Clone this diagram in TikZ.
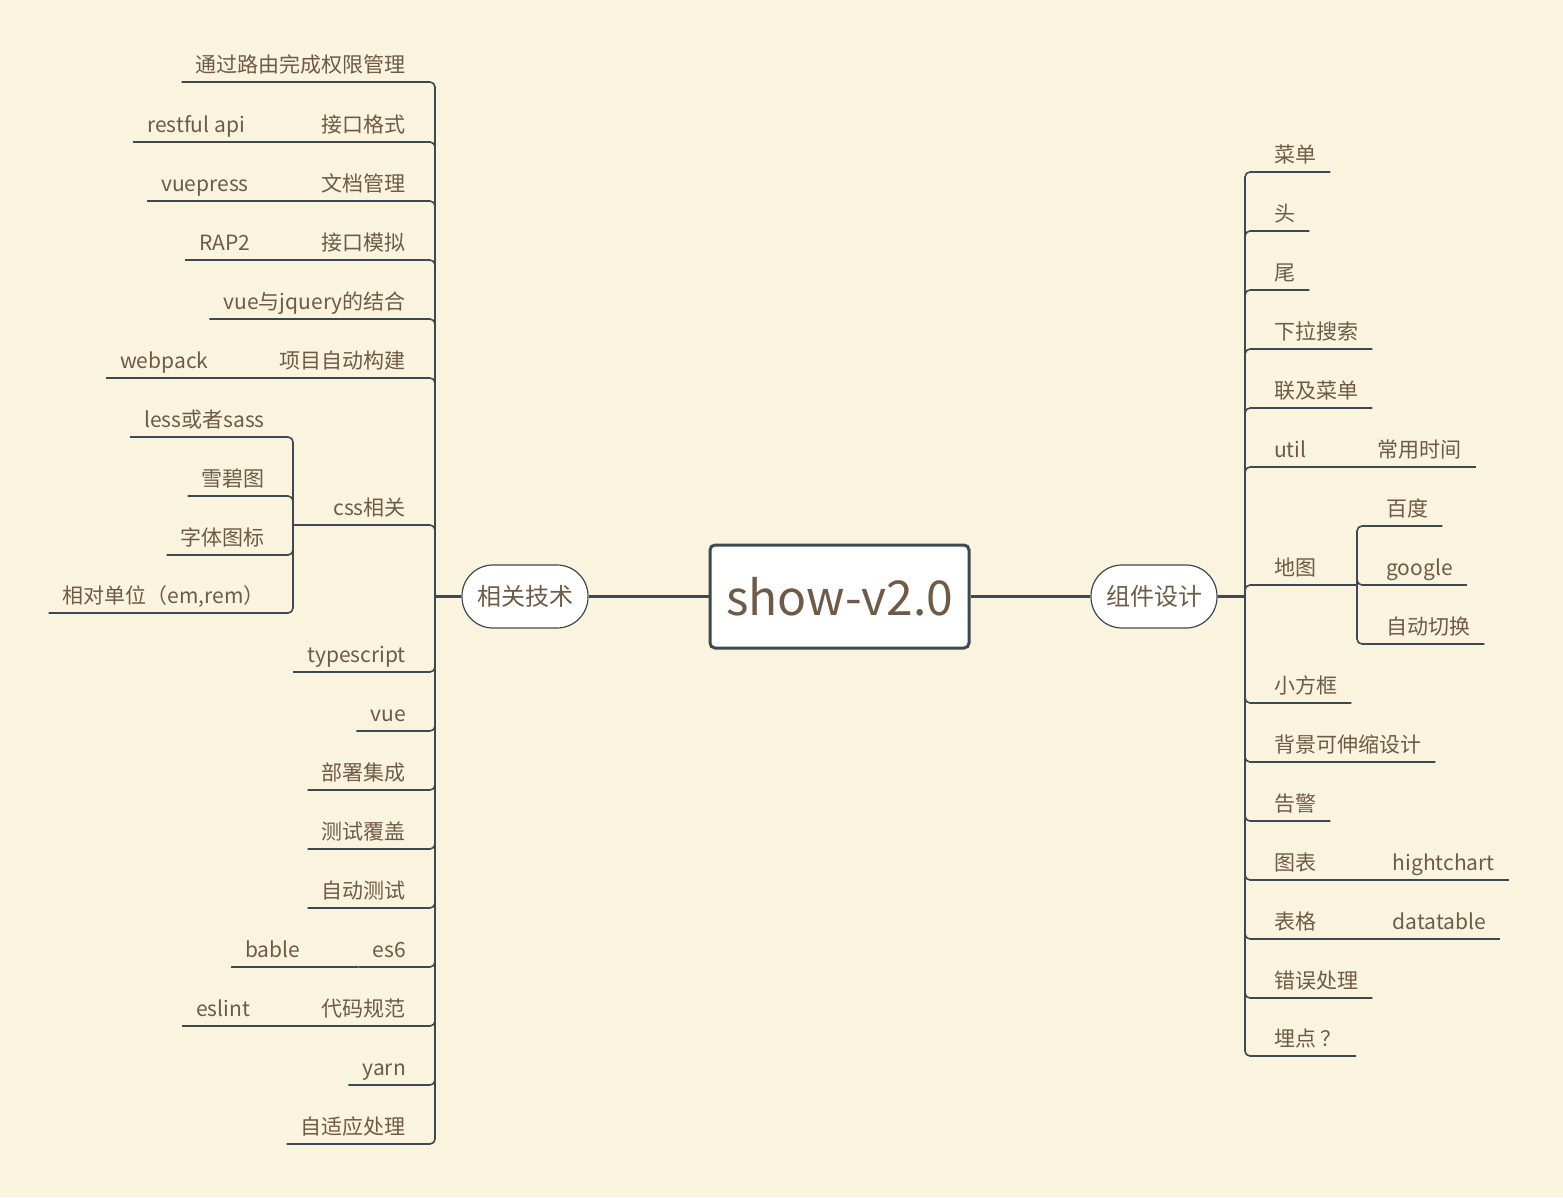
\documentclass[tikz,border=0pt]{standalone}
\usepackage{fontspec}
\setmainfont{Noto Sans CJK SC}
\usetikzlibrary{calc}
\definecolor{paper}{RGB}{250,244,222}
\definecolor{ink}{RGB}{110,90,70}
\definecolor{wire}{RGB}{62,72,82}

\begin{document}
\begin{tikzpicture}[x=1pt,y=-1pt,
	leaf/.style={inner xsep=14pt,inner ysep=1pt,text height=15pt,text depth=8pt,text=ink,font=\fontsize{21}{25}\selectfont},
	topic/.style={draw=wire,line width=1.2pt,fill=white,rounded corners=31pt,minimum width=126pt,minimum height=63pt,text=ink,font=\fontsize{24}{28}\selectfont},
	hub/.style={draw=wire,line width=3pt,fill=white,rounded corners=5pt,minimum width=259pt,minimum height=103pt,text=ink,font=\fontsize{48}{56}\selectfont},
	branch/.style={draw=wire,line width=1.6pt,rounded corners=5pt},
	stem/.style={draw=wire,line width=3pt},
	knee/.style={draw=wire,line width=2.4pt}]
	\fill[paper] (0,0) rectangle (1563,1197);

	\draw (839.5,596.5) node (show) [hub] {show-v2.0};
	\draw (525,596.5) node (tech) [topic] {相关技术};
	\draw (1154,596.5) node (comp) [topic] {组件设计};
	\coordinate (jL) at (435,596.5);
	\coordinate (jR) at (1245,596.5);

	\draw (420,82) node (t1) [leaf,anchor=south east] {通过路由完成权限管理};
	\draw (420,142) node (t2) [leaf,anchor=south east] {接口格式};
	\draw (133,142) node (t2a) [leaf,anchor=south west] {restful api};
	\draw (420,201) node (t3) [leaf,anchor=south east] {文档管理};
	\draw (147,201) node (t3a) [leaf,anchor=south west] {vuepress};
	\draw (420,260) node (t4) [leaf,anchor=south east] {接口模拟};
	\draw (185,260) node (t4a) [leaf,anchor=south west] {RAP2};
	\draw (420,319) node (t5) [leaf,anchor=south east] {vue与jquery的结合};
	\draw (420,378) node (t6) [leaf,anchor=south east] {项目自动构建};
	\draw (106,378) node (t6a) [leaf,anchor=south west] {webpack};
	\draw (420,525) node (css) [leaf,anchor=south east] {css相关};
	\coordinate (jCss) at (293,525);
	\draw (279,437) node (c1) [leaf,anchor=south east] {less或者sass};
	\draw (279,496) node (c2) [leaf,anchor=south east] {雪碧图};
	\draw (279,555) node (c3) [leaf,anchor=south east] {字体图标};
	\draw (279,613) node (c4) [leaf,anchor=south east] {相对单位（em,rem）};
	\draw (420,672) node (t8) [leaf,anchor=south east] {typescript};
	\draw (420,731) node (t9) [leaf,anchor=south east] {vue};
	\draw (420,790) node (t10) [leaf,anchor=south east] {部署集成};
	\draw (420,849) node (t11) [leaf,anchor=south east] {测试覆盖};
	\draw (420,908) node (t12) [leaf,anchor=south east] {自动测试};
	\draw (420,967) node (t13) [leaf,anchor=south east] {es6};
	\draw (231,967) node (t13a) [leaf,anchor=south west] {bable};
	\draw (420,1026) node (t14) [leaf,anchor=south east] {代码规范};
	\draw (182,1026) node (t14a) [leaf,anchor=south west] {eslint};
	\draw (420,1085) node (t15) [leaf,anchor=south east] {yarn};
	\draw (420,1144) node (t16) [leaf,anchor=south east] {自适应处理};

	\draw (1260,172) node (d1) [leaf,anchor=south west] {菜单};
	\draw (1260,231) node (d2) [leaf,anchor=south west] {头};
	\draw (1260,290) node (d3) [leaf,anchor=south west] {尾};
	\draw (1260,349) node (d4) [leaf,anchor=south west] {下拉搜索};
	\draw (1260,408) node (d5) [leaf,anchor=south west] {联及菜单};
	\draw (1260,467) node (d6) [leaf,anchor=south west] {util};
	\draw (1476,467) node (d6a) [leaf,anchor=south east] {常用时间};
	\draw (1260,585) node (map) [leaf,anchor=south west] {地图};
	\coordinate (jMap) at (1357,585);
	\draw (1372,526) node (m1) [leaf,anchor=south west] {百度};
	\draw (1372,585) node (m2) [leaf,anchor=south west] {google};
	\draw (1372,644) node (m3) [leaf,anchor=south west] {自动切换};
	\draw (1260,703) node (d8) [leaf,anchor=south west] {小方框};
	\draw (1260,762) node (d9) [leaf,anchor=south west] {背景可伸缩设计};
	\draw (1260,821) node (d10) [leaf,anchor=south west] {告警};
	\draw (1260,880) node (d11) [leaf,anchor=south west] {图表};
	\draw (1509,880) node (d11a) [leaf,anchor=south east] {hightchart};
	\draw (1260,939) node (d12) [leaf,anchor=south west] {表格};
	\draw (1500,939) node (d12a) [leaf,anchor=south east] {datatable};
	\draw (1260,998) node (d13) [leaf,anchor=south west] {错误处理};
	\draw (1260,1056) node (d14) [leaf,anchor=south west] {埋点 ？};

	\draw[stem] (show.west) -- (tech.east);
	\draw[stem] (show.east) -- (comp.west);
	\draw[stem] (tech.west) -- (jL);
	\draw[stem] (comp.east) -- (jR);

	\draw[branch] (jL) |- (t1.south west);
	\draw[branch] (jL) |- (t2.south west);
	\draw[branch] (jL) |- (t3.south west);
	\draw[branch] (jL) |- (t4.south west);
	\draw[branch] (jL) |- (t5.south west);
	\draw[branch] (jL) |- (t6.south west);
	\draw[branch] (jL) |- (css.south west);
	\draw[branch] (jL) |- (t8.south west);
	\draw[branch] (jL) |- (t9.south west);
	\draw[branch] (jL) |- (t10.south west);
	\draw[branch] (jL) |- (t11.south west);
	\draw[branch] (jL) |- (t12.south west);
	\draw[branch] (jL) |- (t13.south west);
	\draw[branch] (jL) |- (t14.south west);
	\draw[branch] (jL) |- (t15.south west);
	\draw[branch] (jL) |- (t16.south west);
	\draw[branch] (t2.south west) -- (t2a.south west);
	\draw[branch] (t3.south west) -- (t3a.south west);
	\draw[branch] (t4.south west) -- (t4a.south west);
	\draw[branch] (t6.south west) -- (t6a.south west);
	\draw[branch] (t13.south west) -- (t13a.south west);
	\draw[branch] (t14.south west) -- (t14a.south west);
	\draw[knee] (css.south west) -- (jCss);
	\draw[branch] (jCss) |- (c1.south west);
	\draw[branch] (jCss) |- (c2.south west);
	\draw[branch] (jCss) |- (c3.south west);
	\draw[branch] (jCss) |- (c4.south west);

	\draw[branch] (jR) |- (d1.south east);
	\draw[branch] (jR) |- (d2.south east);
	\draw[branch] (jR) |- (d3.south east);
	\draw[branch] (jR) |- (d4.south east);
	\draw[branch] (jR) |- (d5.south east);
	\draw[branch] (jR) |- (d6.south east);
	\draw[branch] (jR) |- (map.south east);
	\draw[branch] (jR) |- (d8.south east);
	\draw[branch] (jR) |- (d9.south east);
	\draw[branch] (jR) |- (d10.south east);
	\draw[branch] (jR) |- (d11.south east);
	\draw[branch] (jR) |- (d12.south east);
	\draw[branch] (jR) |- (d13.south east);
	\draw[branch] (jR) |- (d14.south east);
	\draw[branch] (d6.south east) -- (d6a.south east);
	\draw[branch] (d11.south east) -- (d11a.south east);
	\draw[branch] (d12.south east) -- (d12a.south east);
	\draw[knee] (map.south east) -- (jMap);
	\draw[branch] (jMap) |- (m1.south east);
	\draw[branch] (jMap) |- (m2.south east);
	\draw[branch] (jMap) |- (m3.south east);
\end{tikzpicture}
\end{document}
